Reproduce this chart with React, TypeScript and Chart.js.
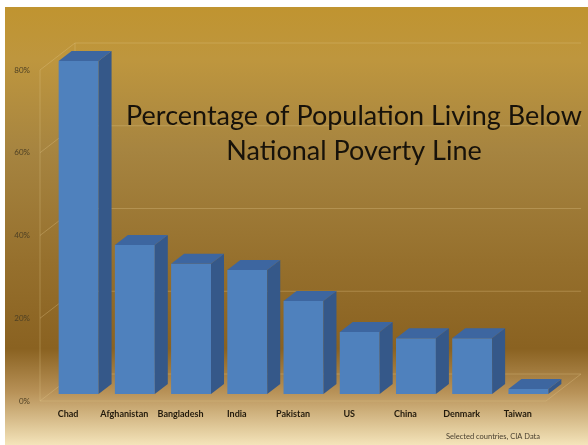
import React, { useEffect, useRef } from "react";
import { Chart, registerables } from "chart.js";

Chart.register(...registerables);

const categories = ["Chad", "Afghanistan", "Bangladesh", "India", "Pakistan", "US", "China", "Denmark", "Taiwan"];
const povertyPct = [80.5, 36, 31.5, 30, 22.5, 15, 13.5, 13.5, 1.2];
const yTicks = [0, 20, 40, 60, 80];
const titleLines = ["Percentage of Population Living Below", "National Poverty Line"];
const sourceNote = "Selected countries, CIA Data";

const WALL_DX = 35;
const WALL_DY = 27;
const BAR_SHIFT_X = 10.5;
const BAR_SHIFT_Y = -7;
const BAR_DX = 13;
const BAR_DY = 10;

const FONT = "Lato, 'Open Sans', sans-serif";

const threeDPlugin = {
  id: "threeD",
  beforeDraw(chart: any) {
    const { ctx, width, height } = chart;
    ctx.save();
    ctx.fillStyle = "#ffffff";
    ctx.fillRect(0, 0, width, height);
    const g = ctx.createLinearGradient(0, 7, 0, height);
    g.addColorStop(0, "rgb(192,148,48)");
    g.addColorStop(0.12, "rgb(190,150,62)");
    g.addColorStop(0.33, "rgb(166,132,64)");
    g.addColorStop(0.58, "rgb(150,112,45)");
    g.addColorStop(0.78, "rgb(138,98,33)");
    g.addColorStop(0.88, "rgb(184,146,88)");
    g.addColorStop(1, "rgb(244,228,186)");
    ctx.fillStyle = g;
    ctx.fillRect(5, 7, width - 5, height - 7);
    ctx.restore();
  },
  beforeDatasetsDraw(chart: any) {
    const { ctx, chartArea: ca, scales } = chart;
    const y = scales.y;
    ctx.save();
    ctx.strokeStyle = "rgba(228,200,140,0.32)";
    ctx.lineWidth = 1;
    ctx.beginPath();
    const y0 = y.getPixelForValue(yTicks[0]);
    const yTop = y.getPixelForValue(yTicks[yTicks.length - 1]);
    yTicks.forEach((v) => {
      const py = y.getPixelForValue(v);
      ctx.moveTo(ca.left, py);
      ctx.lineTo(ca.left + WALL_DX, py - WALL_DY);
      ctx.lineTo(ca.right + WALL_DX, py - WALL_DY);
    });
    ctx.moveTo(ca.left, y0);
    ctx.lineTo(ca.left, yTop);
    ctx.moveTo(ca.left + WALL_DX, y0 - WALL_DY);
    ctx.lineTo(ca.left + WALL_DX, yTop - WALL_DY);
    ctx.moveTo(ca.left, y0);
    ctx.lineTo(ca.right, y0);
    ctx.lineTo(ca.right + WALL_DX, y0 - WALL_DY);
    ctx.stroke();
    ctx.restore();
    ctx.save();
    ctx.translate(BAR_SHIFT_X, BAR_SHIFT_Y);
  },
  afterDatasetsDraw(chart: any) {
    const ctx = chart.ctx;
    const meta = chart.getDatasetMeta(0);
    meta.data.forEach((bar: any) => {
      const { x, y, base, width } = bar.getProps(["x", "y", "base", "width"], true);
      const l = x - width / 2;
      const r = x + width / 2;
      ctx.fillStyle = "#355889";
      ctx.beginPath();
      ctx.moveTo(r, y);
      ctx.lineTo(r + BAR_DX, y - BAR_DY);
      ctx.lineTo(r + BAR_DX, base - BAR_DY);
      ctx.lineTo(r, base);
      ctx.closePath();
      ctx.fill();
      ctx.fillStyle = "#3D66A0";
      ctx.beginPath();
      ctx.moveTo(l, y);
      ctx.lineTo(l + BAR_DX, y - BAR_DY);
      ctx.lineTo(r + BAR_DX, y - BAR_DY);
      ctx.lineTo(r, y);
      ctx.closePath();
      ctx.fill();
    });
    ctx.restore();
  },
  afterDraw(chart: any) {
    const { ctx } = chart;
    ctx.save();
    ctx.fillStyle = "#17120a";
    ctx.textAlign = "center";
    ctx.textBaseline = "alphabetic";
    ctx.font = `27px ${FONT}`;
    ctx.fillText(titleLines[0], 354, 125);
    ctx.fillText(titleLines[1], 354, 160);
    ctx.fillStyle = "#4a4030";
    ctx.font = `7.5px ${FONT}`;
    ctx.textAlign = "left";
    ctx.textBaseline = "middle";
    ctx.fillText(sourceNote, 446, 437);
    ctx.restore();
  },
};

export default function App() {
  const ref = useRef<HTMLCanvasElement | null>(null);
  useEffect(() => {
    document.body.style.margin = "0";
    const canvas = ref.current;
    if (!canvas) return;
    const chart = new Chart(canvas, {
      type: "bar",
      data: {
        labels: categories,
        datasets: [
          {
            data: povertyPct,
            backgroundColor: "#4F81BD",
            borderWidth: 0,
            categoryPercentage: 1,
            barPercentage: 0.71,
            clip: false as any,
          },
        ],
      },
      options: {
        responsive: false,
        animation: false,
        layout: { padding: { top: 70, right: 42, left: 0, bottom: 0 } },
        plugins: { legend: { display: false }, title: { display: false }, tooltip: { enabled: false } },
        scales: {
          x: {
            grid: { display: false, drawTicks: false },
            border: { display: false },
            ticks: { padding: 8, color: "#221a0c", font: { family: FONT, size: 9, weight: "bold" } },
            afterFit(s: any) {
              s.height = 44;
            },
          },
          y: {
            min: 0,
            max: 80,
            grid: { display: false, drawTicks: false },
            border: { display: false },
            ticks: {
              stepSize: 20,
              padding: 10,
              color: "#4e4024",
              font: { family: FONT, size: 8 },
              callback: (v: any) => v + "%",
            },
            afterFit(s: any) {
              s.width = 40;
            },
          },
        },
      },
      plugins: [threeDPlugin],
    });
    return () => chart.destroy();
  }, []);
  return <canvas ref={ref} width={588} height={445} style={{ display: "block" }} />;
}
